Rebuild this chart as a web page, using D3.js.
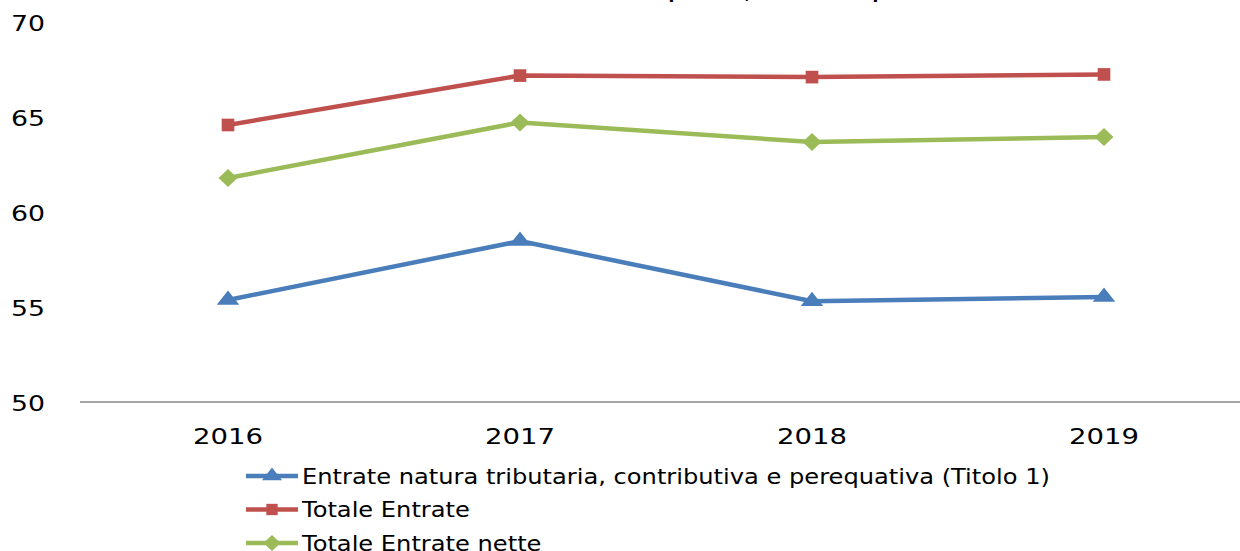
<!DOCTYPE html>
<html>
<head>
<meta charset="utf-8">
<script src="https://cdn.jsdelivr.net/npm/d3@7"></script>
<style>
  body { margin: 0; background: #fff; }
  text { font-family: "DejaVu Sans", Verdana, sans-serif; fill: #000; }
</style>
</head>
<body>
<div id="chart"></div>
<script>
const title = "Grado di autonomia finanziaria e impositiva, 2016-2019 (percentuale)";
const years = ["2016", "2017", "2018", "2019"];
const yTicks = [50, 55, 60, 65, 70];
const seriesNames = ["Entrate natura tributaria, contributiva e perequativa (Titolo 1)", "Totale Entrate", "Totale Entrate nette"];
const titolo1 = [55.37, 58.47, 55.3, 55.53];
const totaleEntrate = [64.58, 67.18, 67.1, 67.24];
const totaleNette = [61.79, 64.71, 63.68, 63.95];
const colors = ["#4a7ebb", "#c0504d", "#9bbb59"];
const markers = [d3.symbolTriangle, d3.symbolSquare, d3.symbolDiamond];

const w = 1240, h = 551;
const pad = { t: 22, b: 149, s: 82, e: -10 };
const svg = d3.select("#chart").append("svg").attr("width", w).attr("height", h);

const x = d3.scaleBand().domain(years).range([pad.s, w - pad.e]);
const y = d3.scaleLinear().domain([50, 70]).range([h - pad.b, pad.t]);

// title, only its bottom edge shows in the reference
svg.append("text").text(title).attr("x", 660).attr("y", -2).attr("text-anchor", "middle")
  .attr("font-size", 17).attr("font-weight", "bold");

// y labels, no axis line
svg.append("g").selectAll("text").data(yTicks).enter().append("text")
  .text((d) => d)
  .attr("x", 45).attr("y", (d) => y(d) + 1).attr("dy", "0.36em")
  .attr("text-anchor", "end").attr("font-size", 22)
  .attr("textLength", 34).attr("lengthAdjust", "spacingAndGlyphs");

// x axis
svg.append("line").attr("x1", 80).attr("x2", w).attr("y1", y(50)).attr("y2", y(50))
  .attr("stroke", "#898989").attr("stroke-width", 1.3);
svg.append("g").selectAll("text").data(years).enter().append("text")
  .text((d) => d)
  .attr("x", (d) => x(d) + x.bandwidth() / 2).attr("y", y(50) + 42)
  .attr("text-anchor", "middle").attr("font-size", 22)
  .attr("textLength", 70).attr("lengthAdjust", "spacingAndGlyphs");

const series = [titolo1, totaleEntrate, totaleNette];
const cx = (i) => x(years[i]) + x.bandwidth() / 2;
const line = d3.line().x((d, i) => cx(i)).y((d) => y(d));
const symSize = [130, 160, 130];
const symScale = ["scale(1.3,0.95)", "scale(1,1)", "scale(1.55,0.85)"];

series.forEach((vals, k) => {
  svg.append("path").datum(vals).attr("d", line)
    .attr("fill", "none").attr("stroke", colors[k]).attr("stroke-width", 4.5).attr("stroke-linejoin", "round");
  svg.append("g").selectAll("path").data(vals).enter().append("path")
    .attr("d", d3.symbol().type(markers[k]).size(symSize[k]))
    .attr("transform", (d, i) => `translate(${cx(i)}, ${y(d)}) ${symScale[k]}`)
    .attr("fill", colors[k]);
});

// legend
const legend = svg.append("g").attr("transform", "translate(246, 476)");
seriesNames.forEach((name, k) => {
  const g = legend.append("g").attr("transform", `translate(0, ${k * 33.5})`);
  g.append("line").attr("x1", 0).attr("x2", 52).attr("stroke", colors[k]).attr("stroke-width", 4.5);
  g.append("path").attr("d", d3.symbol().type(markers[k]).size(symSize[k] * 0.8))
    .attr("transform", `translate(26, 0) ${symScale[k]}`).attr("fill", colors[k]);
  g.append("text").text(name).attr("dy", "0.36em").attr("font-size", 21)
    .attr("transform", "translate(56, 0) scale(1.15, 1)");
});
</script>
</body>
</html>
